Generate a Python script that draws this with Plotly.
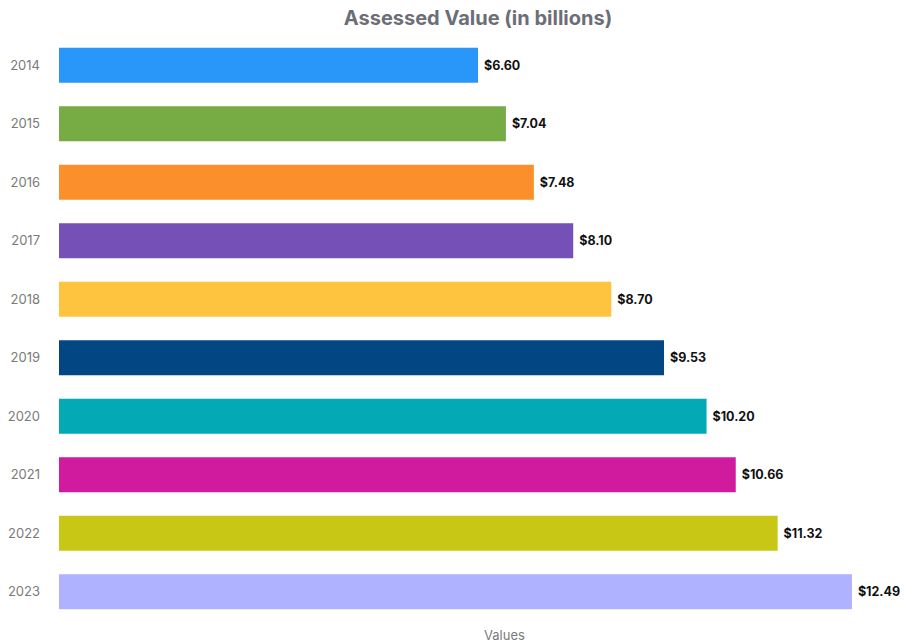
import plotly.graph_objects as go

years = ["2014", "2015", "2016", "2017", "2018", "2019", "2020", "2021", "2022", "2023"]
values = [6.60, 7.04, 7.48, 8.10, 8.70, 9.53, 10.20, 10.66, 11.32, 12.49]
colors = ["#2996fa", "#77ac45", "#fb8f2b", "#7551b7", "#fec43f",
          "#034684", "#03a9b4", "#d11b9e", "#c8c715", "#afb2fe"]
labels = [" $%.2f" % v for v in values]

FONT = "Inter, Noto Sans, sans-serif"

fig = go.Figure(go.Bar(
    y=years, x=values, orientation="h",
    marker=dict(color=colors, line=dict(width=0)),
    text=labels, textposition="outside", cliponaxis=False,
    textfont=dict(family=FONT, size=12.5, color="#111111", weight="bold"),
))

fig.update_layout(
    width=904, height=643,
    margin=dict(l=59, r=7, t=36, b=22, autoexpand=False),
    paper_bgcolor="white", plot_bgcolor="white",
    bargap=0.4,
    showlegend=False,
    title=dict(text="Assessed Value (in billions)", x=478/904, xanchor="center",
               y=1 - 18/643, yanchor="middle",
               font=dict(family=FONT, size=20, color="#6b6e76", weight="bold")),
    xaxis=dict(range=[0, 13.2], showticklabels=False, showgrid=False, automargin=False,
               zeroline=False, showline=False, fixedrange=True),
    yaxis=dict(autorange="reversed", showgrid=False, zeroline=False, showline=False,
               ticklabelstandoff=18, automargin=False,
               tickfont=dict(family=FONT, size=13, color="#7a7a7a")),
    annotations=[dict(text="Values", xref="paper", yref="paper",
                      x=(505 - 59) / 838, y=(621 - 635) / 585,
                      xanchor="center", yanchor="middle", showarrow=False,
                      font=dict(family=FONT, size=13, color="#7a7a7a"))],
)

fig.write_html("out.html",
               config={"displayModeBar": False},
               post_script="document.body.style.margin='0';document.body.style.overflow='hidden';")
